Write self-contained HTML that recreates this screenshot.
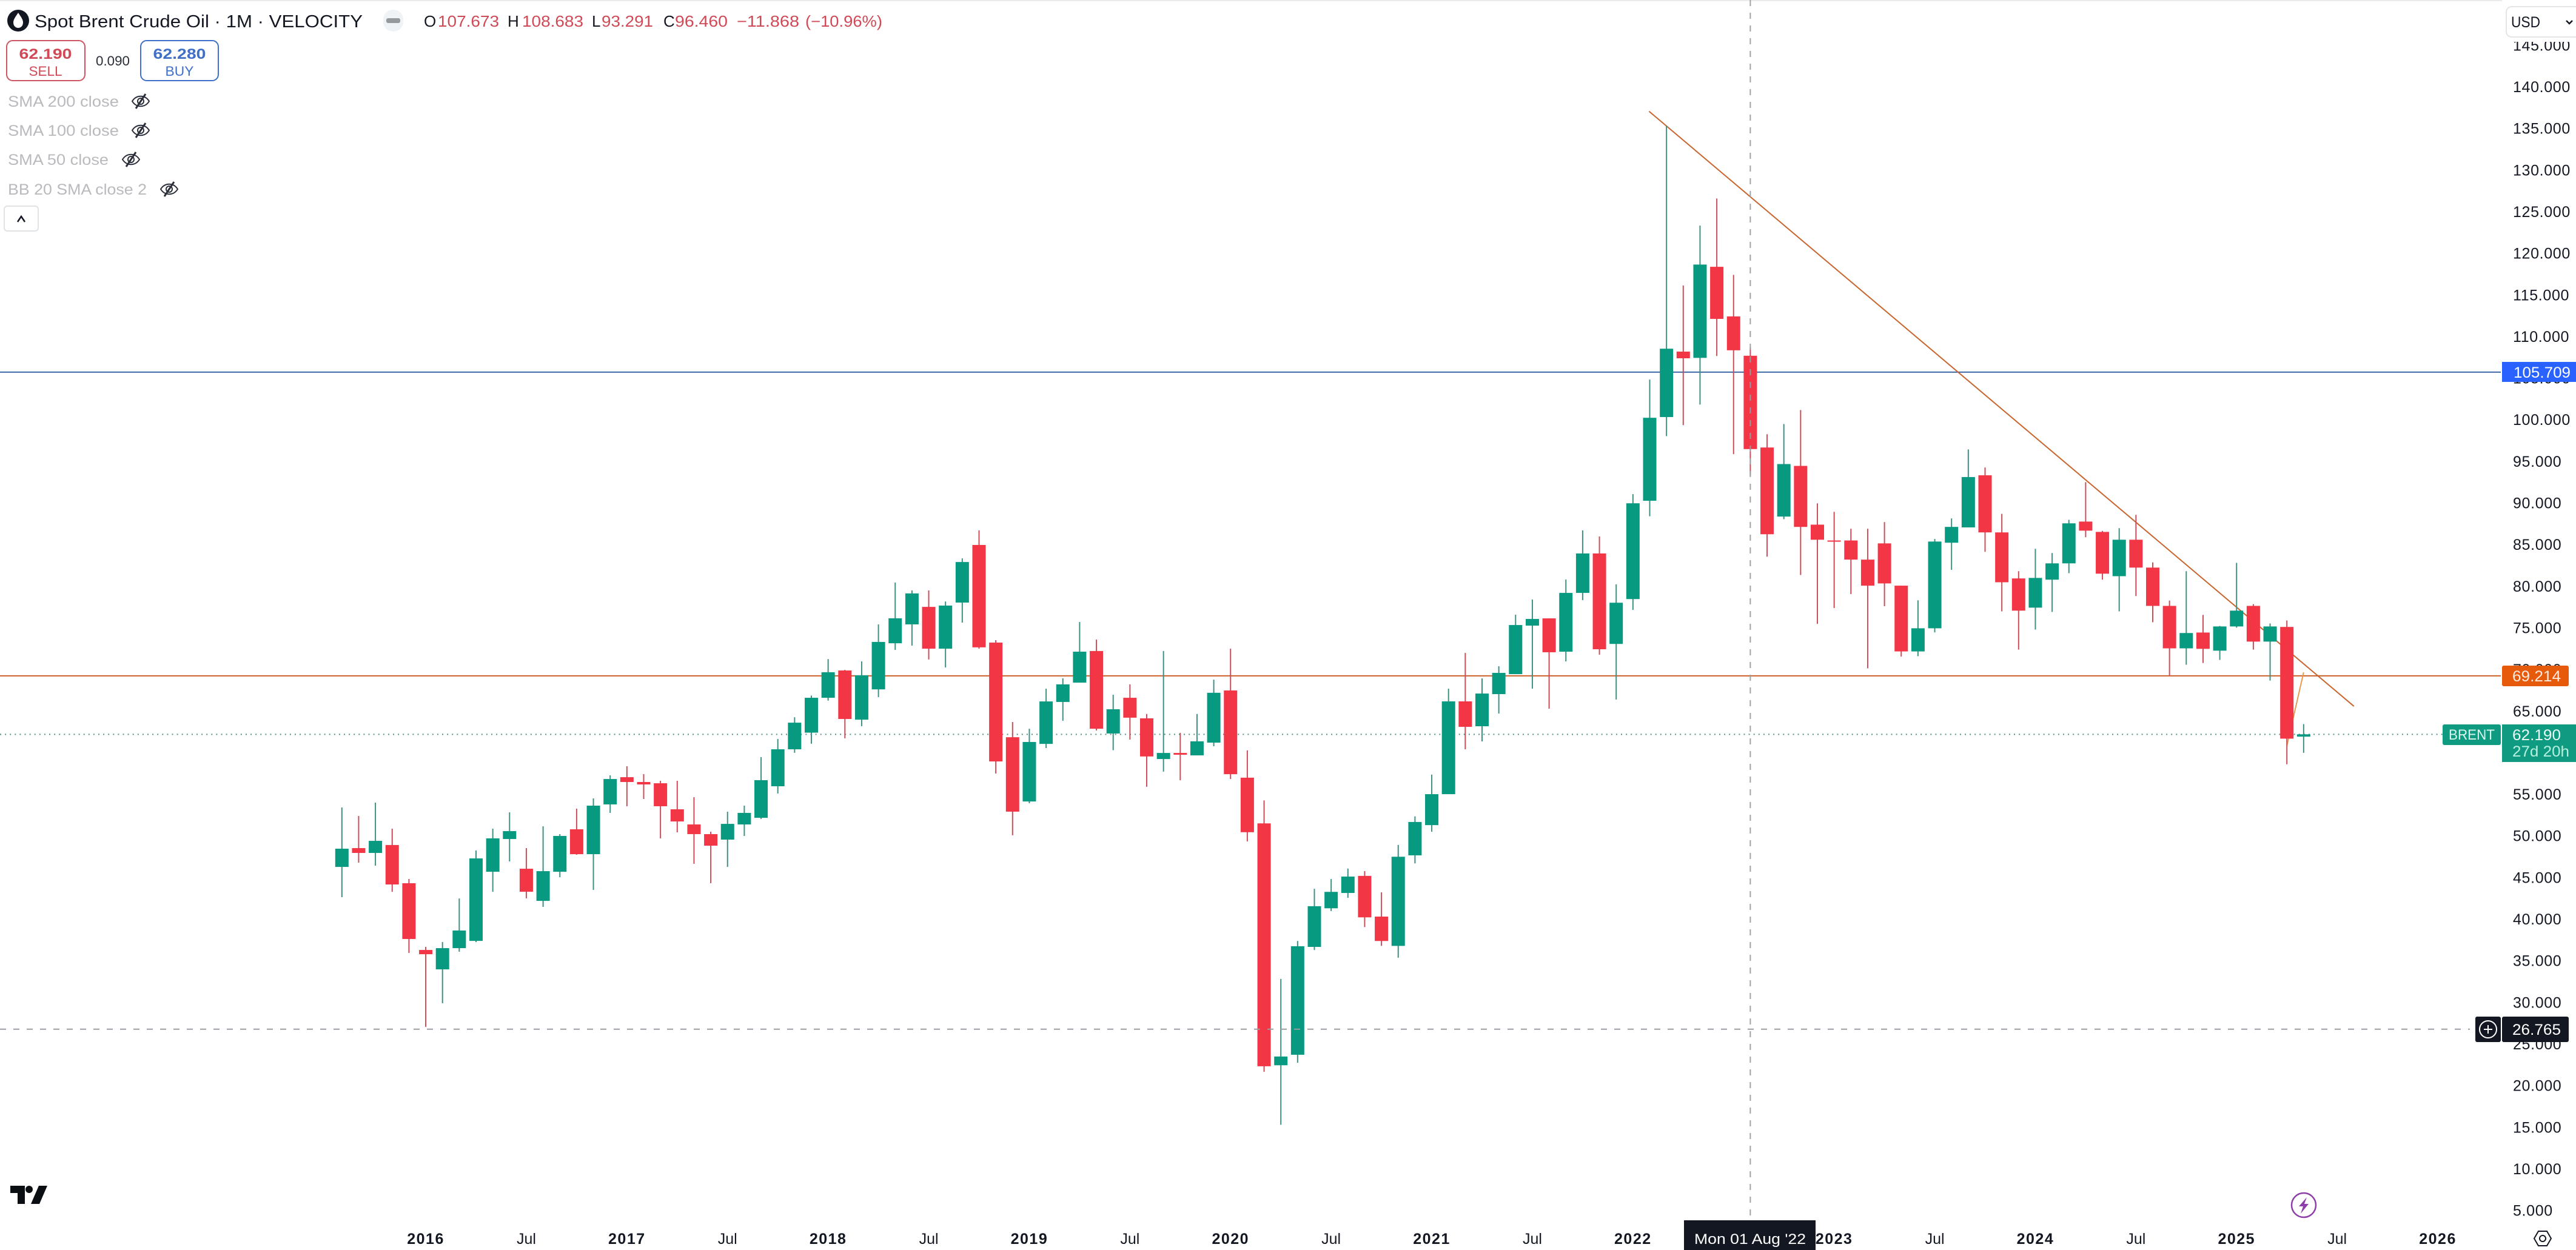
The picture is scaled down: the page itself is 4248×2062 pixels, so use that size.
<!DOCTYPE html>
<html lang="en">
<head>
<meta charset="utf-8">
<title>Spot Brent Crude Oil 1M chart</title>
<style>
html,body{margin:0;padding:0;background:#fff;width:4248px;height:2062px;overflow:hidden}
svg{display:block}
text{font-family:"Liberation Sans",sans-serif}
</style>
</head>
<body>
<svg id="chart" xmlns="http://www.w3.org/2000/svg" width="4248" height="2062" viewBox="0 0 4248 2062">
  <rect x="0" y="0" width="4248" height="2062" fill="#ffffff"/>
  <rect x="0" y="0" width="4248" height="2" fill="#ebebeb"/>
  <g id="levels"></g>
  <g id="trends"></g>
  <g id="candles"></g>
  <g id="crosshair"></g>
  <g id="price-axis"></g>
  <g id="time-axis"></g>

  <rect x="4126" y="0" width="122" height="69" fill="#ffffff"/>
  <g>
    <rect x="4133" y="11" width="125" height="50" rx="9" fill="#ffffff" stroke="#e3e5e8" stroke-width="2"/>
    <text x="4141" y="45" font-size="25" fill="#131722" textLength="48" lengthAdjust="spacingAndGlyphs">USD</text>
    <path d="M4232 34 L4237 39 L4242 34" fill="none" stroke="#131722" stroke-width="2.5"/>
  </g>

  <!-- axis price labels -->
  <g>
    <rect x="4126" y="597" width="122" height="33" fill="#2962ff"/>
    <text x="4145" y="623" font-size="25" fill="#ffffff" textLength="94" lengthAdjust="spacingAndGlyphs">105.709</text>
  </g>
  <g>
    <rect x="4126" y="1098" width="110" height="34" rx="3" fill="#e65a0c"/>
    <text x="4143" y="1124" font-size="25" fill="#ffe9dc" textLength="80" lengthAdjust="spacingAndGlyphs">69.214</text>
  </g>
  <g>
    <rect x="4028" y="1195" width="96" height="34" rx="3" fill="#0e9b82"/>
    <text x="4076" y="1220" font-size="24" fill="#d9f5ec" text-anchor="middle" textLength="76" lengthAdjust="spacingAndGlyphs">BRENT</text>
    <rect x="4126" y="1195" width="122" height="62" fill="#0e9b82"/>
    <text x="4143" y="1221" font-size="25" fill="#e8fbf5" textLength="80" lengthAdjust="spacingAndGlyphs">62.190</text>
    <text x="4143" y="1248" font-size="25" fill="#b5efdd" textLength="94" lengthAdjust="spacingAndGlyphs">27d 20h</text>
  </g>
  <g>
    <rect x="4082" y="1677" width="42" height="42" rx="3" fill="#131722"/>
    <circle cx="4103" cy="1698" r="14" fill="none" stroke="#ffffff" stroke-width="2"/>
    <path d="M4096 1698 H4110 M4103 1691 V1705" stroke="#ffffff" stroke-width="2"/>
    <rect x="4126" y="1677" width="110" height="42" rx="3" fill="#131722"/>
    <text x="4143" y="1707" font-size="25" fill="#ffffff" textLength="80" lengthAdjust="spacingAndGlyphs">26.765</text>
  </g>

  <!-- crosshair time label -->
  <g>
    <rect x="2777" y="2013" width="217" height="49" fill="#131722"/>
    <text x="2886" y="2052" font-size="24" fill="#ffffff" text-anchor="middle" textLength="184" lengthAdjust="spacingAndGlyphs">Mon 01 Aug '22</text>
  </g>

  <!-- header -->
  <g>
    <circle cx="30" cy="34" r="18" fill="#131722"/>
    <path d="M30 21 C34 27 38 32 38 37 C38 43 34 46 30 46 C26 46 22 43 22 37 C22 32 26 27 30 21 Z" fill="#ffffff"/>
    <text x="57" y="45" font-size="29" fill="#131722" textLength="541" lengthAdjust="spacingAndGlyphs">Spot Brent Crude Oil · 1M · VELOCITY</text>
    <rect x="632" y="16" width="33" height="36" rx="16" fill="#f0f3f5"/>
    <rect x="637" y="30" width="23" height="8" rx="3" fill="#969a9e"/>
    <text x="699" y="44" font-size="26" fill="#131722">O</text>
    <text x="722" y="44" font-size="26" fill="#cf4a56" textLength="101" lengthAdjust="spacingAndGlyphs">107.673</text>
    <text x="837" y="44" font-size="26" fill="#131722">H</text>
    <text x="861" y="44" font-size="26" fill="#cf4a56" textLength="101" lengthAdjust="spacingAndGlyphs">108.683</text>
    <text x="976" y="44" font-size="26" fill="#131722">L</text>
    <text x="992" y="44" font-size="26" fill="#cf4a56" textLength="85" lengthAdjust="spacingAndGlyphs">93.291</text>
    <text x="1094" y="44" font-size="26" fill="#131722">C</text>
    <text x="1113" y="44" font-size="26" fill="#cf4a56" textLength="87" lengthAdjust="spacingAndGlyphs">96.460</text>
    <text x="1215" y="44" font-size="26" fill="#cf4a56" textLength="103" lengthAdjust="spacingAndGlyphs">−11.868</text>
    <text x="1328" y="44" font-size="26" fill="#cf4a56" textLength="127" lengthAdjust="spacingAndGlyphs">(−10.96%)</text>
  </g>

  <!-- sell / buy -->
  <g>
    <rect x="11" y="67" width="129" height="66" rx="10" fill="#ffffff" stroke="#cf5560" stroke-width="2"/>
    <text x="75" y="97" font-size="24" font-weight="bold" fill="#cf4a56" text-anchor="middle" textLength="87" lengthAdjust="spacingAndGlyphs">62.190</text>
    <text x="75" y="125" font-size="22" fill="#cf4a56" text-anchor="middle" textLength="55" lengthAdjust="spacingAndGlyphs">SELL</text>
  </g>
  <text x="158" y="108" font-size="22" fill="#2a2e39" textLength="56" lengthAdjust="spacingAndGlyphs">0.090</text>
  <g>
    <rect x="232" y="67" width="128" height="66" rx="10" fill="#ffffff" stroke="#3f6fc6" stroke-width="2"/>
    <text x="296" y="97" font-size="24" font-weight="bold" fill="#3f6fc6" text-anchor="middle" textLength="87" lengthAdjust="spacingAndGlyphs">62.280</text>
    <text x="296" y="125" font-size="22" fill="#3f6fc6" text-anchor="middle" textLength="47" lengthAdjust="spacingAndGlyphs">BUY</text>
  </g>

  <!-- indicators -->
  <g>
    <text x="13" y="176" font-size="25" fill="#b8babd" textLength="183" lengthAdjust="spacingAndGlyphs">SMA 200 close</text>
    <g transform="translate(232,167)" fill="none" stroke="#2a2e39" stroke-width="2">
      <path d="M-14 0 C-7 -11 7 -11 14 0 C7 11 -7 11 -14 0 Z"/><circle r="5"/><path d="M8 -12 L-8 12" stroke-width="3"/>
    </g>
    <text x="13" y="224" font-size="25" fill="#b8babd" textLength="183" lengthAdjust="spacingAndGlyphs">SMA 100 close</text>
    <g transform="translate(232,215)" fill="none" stroke="#2a2e39" stroke-width="2">
      <path d="M-14 0 C-7 -11 7 -11 14 0 C7 11 -7 11 -14 0 Z"/><circle r="5"/><path d="M8 -12 L-8 12" stroke-width="3"/>
    </g>
    <text x="13" y="272" font-size="25" fill="#b8babd" textLength="166" lengthAdjust="spacingAndGlyphs">SMA 50 close</text>
    <g transform="translate(216,263)" fill="none" stroke="#2a2e39" stroke-width="2">
      <path d="M-14 0 C-7 -11 7 -11 14 0 C7 11 -7 11 -14 0 Z"/><circle r="5"/><path d="M8 -12 L-8 12" stroke-width="3"/>
    </g>
    <text x="13" y="321" font-size="25" fill="#b8babd" textLength="229" lengthAdjust="spacingAndGlyphs">BB 20 SMA close 2</text>
    <g transform="translate(279,312)" fill="none" stroke="#2a2e39" stroke-width="2">
      <path d="M-14 0 C-7 -11 7 -11 14 0 C7 11 -7 11 -14 0 Z"/><circle r="5"/><path d="M8 -12 L-8 12" stroke-width="3"/>
    </g>
    <g>
      <rect x="7" y="340" width="56" height="41" rx="5" fill="#ffffff" stroke="#e0e3e6" stroke-width="2"/>
      <path d="M29 366 L35 357 L41 366" fill="none" stroke="#131722" stroke-width="2.5"/>
    </g>
  </g>

  <!-- watermark logo, events, settings -->
  <g fill="#0b0e13">
    <path d="M17 1956 H41 V1986 H29 V1968 H17 Z"/>
    <circle cx="48" cy="1962" r="6"/>
    <path d="M64 1956 H78 L65 1986 H51 Z"/>
  </g>
  <g>
    <circle cx="3799" cy="1988" r="20" fill="#ffffff" stroke="#8e3ea8" stroke-width="2.5"/>
    <path d="M3804 1975 L3791 1990 L3798 1990 L3794 2002 L3807 1986 L3800 1986 Z" fill="#8e3ea8"/>
  </g>
  <g fill="none" stroke="#131722" stroke-width="2">
    <path d="M4179 2043 L4186 2031 L4200 2031 L4207 2043 L4200 2055 L4186 2055 Z"/>
    <circle cx="4193" cy="2043" r="5"/>
  </g>
</svg>

<script>
// ---- chart data ----
const months = [
"2015-08","2015-09","2015-10","2015-11","2015-12",
"2016-01","2016-02","2016-03","2016-04","2016-05","2016-06","2016-07","2016-08","2016-09","2016-10","2016-11","2016-12",
"2017-01","2017-02","2017-03","2017-04","2017-05","2017-06","2017-07","2017-08","2017-09","2017-10","2017-11","2017-12",
"2018-01","2018-02","2018-03","2018-04","2018-05","2018-06","2018-07","2018-08","2018-09","2018-10","2018-11","2018-12",
"2019-01","2019-02","2019-03","2019-04","2019-05","2019-06","2019-07","2019-08","2019-09","2019-10","2019-11","2019-12",
"2020-01","2020-02","2020-03","2020-04","2020-05","2020-06","2020-07","2020-08","2020-09","2020-10","2020-11","2020-12",
"2021-01","2021-02","2021-03","2021-04","2021-05","2021-06","2021-07","2021-08","2021-09","2021-10","2021-11","2021-12",
"2022-01","2022-02","2022-03","2022-04","2022-05","2022-06","2022-07","2022-08","2022-09","2022-10","2022-11","2022-12",
"2023-01","2023-02","2023-03","2023-04","2023-05","2023-06","2023-07","2023-08","2023-09","2023-10","2023-11","2023-12",
"2024-01","2024-02","2024-03","2024-04","2024-05","2024-06","2024-07","2024-08","2024-09","2024-10","2024-11","2024-12",
"2025-01","2025-02","2025-03","2025-04","2025-05"];
const opens = [
46.26,48.52,47.94,48.89,44.30,36.28,33.95,36.50,37.37,45.68,49.61,46.04,42.18,45.68,50.78,47.79,53.77,
57.04,56.46,56.31,53.18,51.36,50.20,49.54,51.36,52.16,55.95,60.39,62.39,
66.58,69.86,63.95,67.59,73.13,75.40,77.50,72.48,78.02,84.94,73.21,61.84,
54.12,61.04,66.08,68.40,72.20,62.29,66.58,64.11,59.22,59.95,59.66,61.19,
67.46,56.98,51.49,22.43,23.69,36.65,41.29,43.13,45.18,40.29,36.77,47.65,
51.28,55.00,66.15,63.16,67.02,69.42,75.25,76.12,72.12,79.18,83.92,73.05,
78.44,90.25,100.31,108.17,107.42,118.36,112.40,107.673,96.65,88.35,94.44,87.38,
85.48,85.48,83.18,85.13,80.05,72.15,74.93,85.21,87.05,93.31,86.45,80.92,
77.41,80.77,82.73,87.75,86.51,81.19,85.57,82.22,77.62,72.52,74.42,72.24,
75.15,77.62,73.33,75.09,61.91];
const highs = [
53.40,52.38,53.98,50.85,44.81,36.65,37.23,42.47,48.23,50.85,52.82,48.52,51.14,50.20,53.26,54.49,57.26,
58.35,57.41,56.61,56.61,54.64,50.49,52.89,53.62,59.45,61.63,64.24,66.84,
71.23,69.93,70.95,75.40,80.42,79.48,79.48,78.15,83.33,86.69,73.50,63.67,
62.86,67.67,68.92,75.68,73.57,66.94,68.19,64.63,72.20,62.37,64.63,68.76,
72.48,60.26,54.25,32.80,37.36,43.63,44.80,46.06,45.76,43.21,48.90,52.33,
57.35,67.68,71.97,68.91,70.37,76.56,78.38,76.12,80.79,86.69,85.96,80.20,
91.05,104.81,135.31,116.11,123.31,126.57,117.39,108.683,98.24,99.47,101.15,89.94,
88.92,86.89,86.89,87.69,80.05,78.29,85.66,88.13,96.42,94.25,88.68,81.79,
84.48,83.97,87.96,92.49,86.63,86.96,88.56,82.85,78.26,81.79,76.54,75.21,
82.79,77.83,75.51,75.87,63.42];
const lows = [
42.62,46.77,46.41,43.27,35.92,27.04,29.88,36.07,37.23,43.27,46.92,42.48,41.46,45.02,47.72,43.50,52.75,
53.55,54.42,49.69,50.41,46.63,44.30,46.26,49.98,52.02,55.08,59.97,61.06,
66.24,61.71,63.17,66.66,72.33,72.85,71.18,70.22,75.61,72.48,57.48,50.06,
53.91,60.54,63.82,68.40,62.65,60.28,61.56,55.89,57.71,56.67,59.66,60.75,
56.82,49.33,21.64,15.28,22.73,36.27,40.96,42.55,39.03,36.77,35.35,46.68,
50.49,55.00,60.39,61.34,64.69,69.42,67.68,65.27,70.95,78.31,71.76,66.37,
77.14,88.39,98.02,99.34,101.81,107.64,95.85,93.291,83.54,88.04,81.33,75.46,
77.36,79.04,70.12,77.58,71.53,71.58,74.44,81.95,87.05,84.12,76.96,72.37,
74.78,76.90,81.55,85.87,80.77,76.96,78.80,75.66,69.22,70.55,70.76,71.13,
75.00,72.37,68.65,58.59,59.97];
const closes = [
48.45,47.94,49.39,44.15,37.60,35.77,36.50,38.62,47.28,49.69,50.56,43.28,45.75,49.98,47.79,53.62,56.82,
56.46,56.17,53.55,51.72,50.20,48.81,51.43,52.75,56.68,60.39,63.59,66.58,
69.65,64.03,69.28,73.29,76.13,79.12,72.48,77.66,82.89,72.64,58.93,52.90,
61.27,66.14,68.19,72.12,62.86,65.20,64.19,59.53,59.95,59.74,61.35,67.18,
57.40,50.43,22.31,23.48,36.73,41.54,43.26,45.10,40.20,37.36,47.48,51.66,
55.00,66.15,63.09,67.09,69.57,75.32,76.05,72.05,79.18,83.92,72.41,78.00,
89.95,100.22,108.52,107.37,118.63,112.10,108.33,96.46,86.23,94.66,87.11,85.57,
85.39,83.18,80.05,80.32,72.15,74.93,85.35,87.11,93.10,86.45,80.46,77.05,
80.98,82.73,87.54,86.66,81.49,85.57,82.22,77.62,72.52,74.36,72.46,75.15,
77.05,73.33,75.15,61.67,62.19];

const priceTicks = [145,140,135,130,125,120,115,110,105,100,95,90,85,80,75,70,65,60,55,50,45,40,35,30,25,20,15,10,5];
const priceTickLabels = ["145.000","140.000","135.000","130.000","125.000","120.000","115.000","110.000","105.000","100.000","95.000","90.000","85.000","80.000","75.000","70.000","65.000","60.000","55.000","50.000","45.000","40.000","35.000","30.000","25.000","20.000","15.000","10.000","5.000"];
const timeTickMonths = ["2016-01","2016-07","2017-01","2017-07","2018-01","2018-07","2019-01","2019-07","2020-01","2020-07","2021-01","2021-07","2022-01","2022-07","2023-01","2023-07","2024-01","2024-07","2025-01","2025-07","2026-01"];
const timeTickLabels = ["2016","Jul","2017","Jul","2018","Jul","2019","Jul","2020","Jul","2021","Jul","2022","Jul","2023","Jul","2024","Jul","2025","Jul","2026"];

const resistanceLevel = [105.709];
const supportLevel = [69.214];
const lastPrice = [62.19];
const crosshairPrice = [26.765];
const crosshairMonth = ["2022-08"];
const downTrendMonths = [77.96,120];
const downTrendPrices = [137.04,65.56];
const upSwingMonths = [116,117];
const upSwingPrices = [60.8,69.64];

// ---- axis functions ----
function yOf(price){ return 1653.3 + (30 - price) * 13.73; }
function xOfIndex(i){ return 563.8 + i * 27.65; }
function monthIndex(label){
  const parts = label.split('-');
  return (Number(parts[0]) - 2015) * 12 + Number(parts[1]) - 8;
}
function xOfMonth(label){ return xOfIndex(monthIndex(label)); }

const NS = 'http://www.w3.org/2000/svg';
function make(tag, parent, attrs){
  const el = document.createElementNS(NS, tag);
  for (const k in attrs) el.setAttribute(k, attrs[k]);
  parent.appendChild(el);
  return el;
}

// ---- horizontal levels ----
const levelsG = document.getElementById('levels');
const blueLine = make('line', levelsG, {x1:0,x2:4124,y1:yOf(resistanceLevel[0]),y2:yOf(resistanceLevel[0]),stroke:'#3f67a8','stroke-width':2});


const orangeLine = make('line', levelsG, {x1:0,x2:4124,y1:yOf(supportLevel[0]),y2:yOf(supportLevel[0]),stroke:'#cc6028','stroke-width':2});


const lastLine = make('line', levelsG, {x1:0,x2:4028,y1:yOf(lastPrice[0]),y2:yOf(lastPrice[0]),stroke:'#4f8f89','stroke-width':2,'stroke-dasharray':'2 6.1'});



// ---- trend lines ----
const trendsG = document.getElementById('trends');
const downTrend = make('line', trendsG, {x1:xOfIndex(downTrendMonths[0]),y1:yOf(downTrendPrices[0]),x2:xOfIndex(downTrendMonths[1]),y2:yOf(downTrendPrices[1]),stroke:'#c8642e','stroke-width':2});


const upSwing = make('line', trendsG, {x1:xOfIndex(upSwingMonths[0]),y1:yOf(upSwingPrices[0]),x2:xOfIndex(upSwingMonths[1]),y2:yOf(upSwingPrices[1]),stroke:'#e8994e','stroke-width':2});



// ---- candles ----
const candlesG = document.getElementById('candles');
months.forEach(function(m, i){
  const up = closes[i] >= opens[i];
  const x = xOfMonth(m);
  const top = yOf(Math.max(opens[i], closes[i]));
  const bottom = yOf(Math.min(opens[i], closes[i]));
  const g = make('g', candlesG, {});
  
  
  const wick = make('rect', g, {x:x-1,y:yOf(highs[i]),width:2,height:Math.max(1,yOf(lows[i])-yOf(highs[i])),fill:up?'#3f9084':'#c94f5c'});
  
  
  const body = make('rect', g, {x:x-11,y:top,width:22,height:Math.max(2,bottom-top),fill:up?'#089981':'#f23645'});
  
  
});

// ---- crosshair ----
const crossG = document.getElementById('crosshair');
const crossV = make('line', crossG, {x1:xOfMonth(crosshairMonth[0]),x2:xOfMonth(crosshairMonth[0]),y1:0,y2:2013,stroke:'#9a9da3','stroke-width':2,'stroke-dasharray':'10 11','stroke-opacity':0.95});


const crossH = make('line', crossG, {x1:0,x2:4073,y1:yOf(crosshairPrice[0]),y2:yOf(crosshairPrice[0]),stroke:'#9a9da3','stroke-width':2,'stroke-dasharray':'10 12'});



// ---- price axis ----
const priceG = document.getElementById('price-axis');
priceTicks.forEach(function(p, i){
  const t = make('text', priceG, {x:4144,y:yOf(p)+9,'font-size':25,fill:'#131722','letter-spacing':0.65});
  
  
  t.textContent = priceTickLabels[i];
});

// ---- time axis ----
const timeG = document.getElementById('time-axis');
timeTickMonths.forEach(function(m, i){
  const isYear = /^\d{4}$/.test(timeTickLabels[i]);
  const t = make('text', timeG, {x:xOfMonth(m),y:2052,'font-size':25,'text-anchor':'middle',fill:'#131722','font-weight':isYear?'bold':'normal','letter-spacing':isYear?1.5:0});
  
  
  t.textContent = timeTickLabels[i];
});
</script>
</body>
</html>
